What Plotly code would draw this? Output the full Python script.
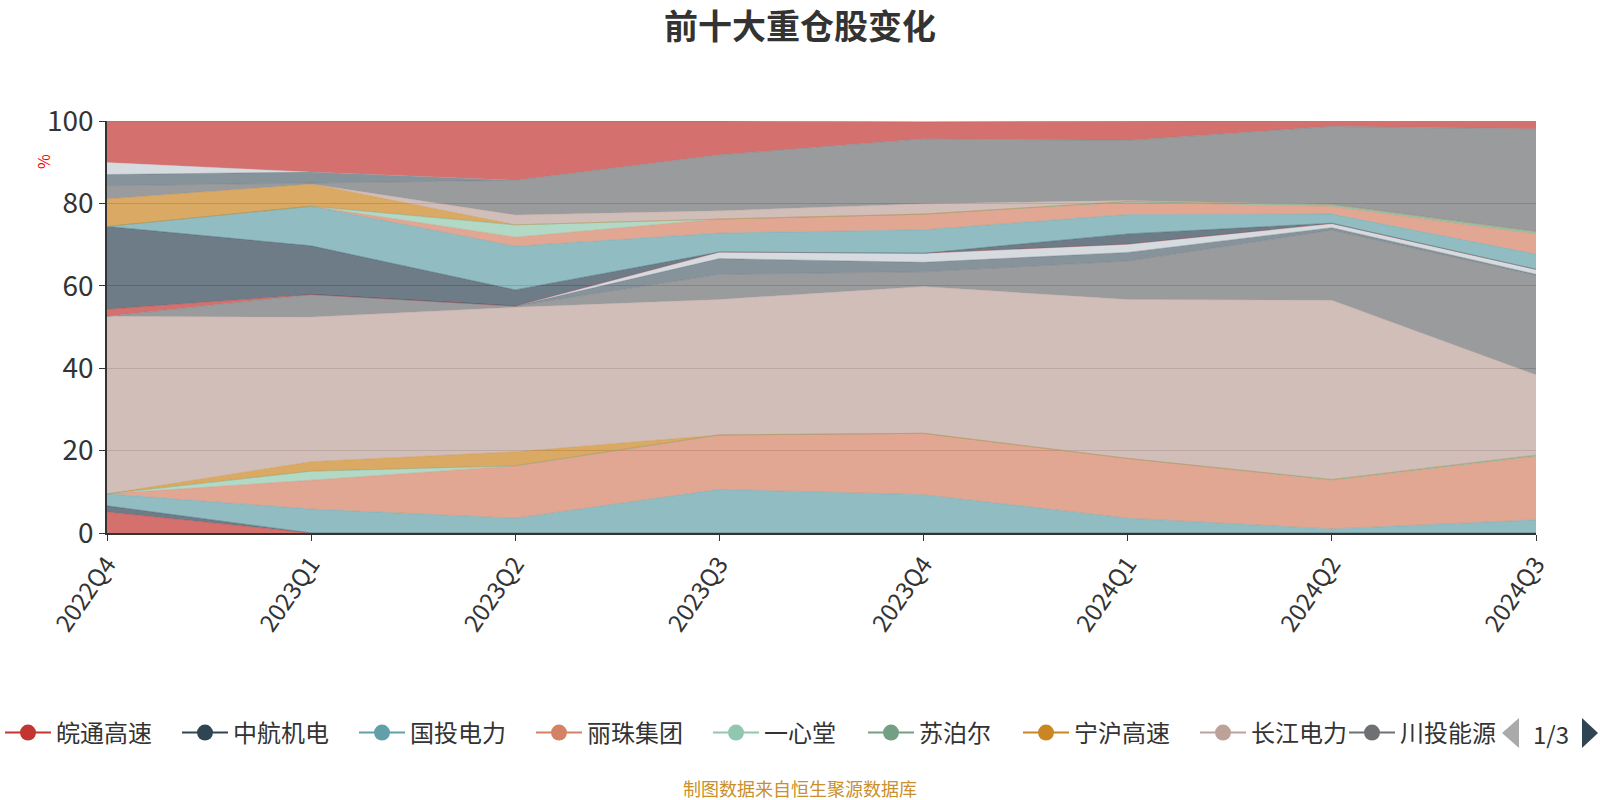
import plotly.graph_objects as go

quarters = ["2022Q4", "2023Q1", "2023Q2", "2023Q3", "2023Q4", "2024Q1", "2024Q2", "2024Q3"]

# stacked share (%) of each holding, bottom to top, in legend/series order
wantong = [5.1, 0, 0, 0, 0, 0, 0, 0]
zhonghang = [1.5, 0, 0, 0, 0, 0, 0, 0]
guotou = [2.9, 5.8, 3.6, 10.6, 9.3, 3.6, 1.0, 3.2]
lizhu = [0, 7.0, 12.7, 13.2, 14.9, 14.5, 11.8, 15.4]
yixintang = [0, 2.2, 0, 0, 0, 0, 0, 0]
supor = [0, 0, 0, 0, 0, 0, 0.2, 0.3]
ninghu = [0, 2.3, 3.4, 0, 0, 0, 0, 0]
changjiang = [43.1, 35.1, 35.1, 32.9, 35.6, 38.6, 43.5, 19.5]
chuantou = [0, 5.5, 0.3, 6.1, 3.6, 9.3, 17.0, 24.1]
huaneng = [0, 0, 0, 3.8, 2.3, 2.1, 0.6, 0.3]
shenhua = [0, 0, 0, 1.6, 2.2, 2.0, 1.0, 1.2]
yili = [1.7, 0, 0, 0, 0, 0, 0, 0]
gree = [20.1, 11.8, 3.9, 0, 0, 2.5, 0.1, 0]
midea = [0, 9.6, 10.6, 4.6, 5.7, 4.7, 2.2, 3.7]
shuanghui = [0, 0, 2.2, 3.4, 3.8, 3.0, 1.9, 4.9]
daqin = [0, 0, 3.0, 0, 0, 0, 0, 0]
haier = [0, 0, 0, 0, 0, 0.2, 0.5, 0.6]
shangao = [6.7, 5.4, 0, 0, 0, 0, 0, 0]
yuegao = [0, 0, 2.4, 2.0, 2.5, 0.2, 0, 0]
cmobile = [3.2, 0.3, 8.4, 13.6, 15.8, 14.6, 18.9, 24.9]
jsbank = [2.7, 2.6, 0, 0, 0, 0, 0, 0]
sinopec = [2.9, 0, 0, 0, 0, 0, 0, 0]
shaanxi = [10.1, 12.4, 14.4, 8.2, 4.1, 4.7, 1.4, 2.0]

names = ["皖通高速", "中航机电", "国投电力", "丽珠集团", "一心堂", "苏泊尔", "宁沪高速", "长江电力",
         "川投能源", "华能水电", "中国神华", "伊利股份", "格力电器", "美的集团", "双汇发展", "大秦铁路",
         "海尔智家", "山东高速", "粤高速A", "中国移动", "江苏银行", "中国石化", "陕西煤业"]
series = [wantong, zhonghang, guotou, lizhu, yixintang, supor, ninghu, changjiang, chuantou, huaneng,
          shenhua, yili, gree, midea, shuanghui, daqin, haier, shangao, yuegao, cmobile, jsbank,
          sinopec, shaanxi]

palette = ["#c23531", "#2f4554", "#61a0a8", "#d48265", "#91c7ae", "#749f83",
           "#ca8622", "#bda29a", "#6e7074", "#546570", "#c4ccd3"]
legend_count = 9
page_text = "1/3"
FONT = "Noto Sans CJK SC, Microsoft YaHei, sans-serif"

W, H = 1600, 800
L, R, T, B = 107, 64, 121, 267
PW, PH = W - L - R, H - T - B


def px_x(x):
    return (x - L) / PW


def px_y(y):
    return (H - B - y) / PH


def rgba(h, a):
    h = h.lstrip("#")
    r, g, b = int(h[0:2], 16), int(h[2:4], 16), int(h[4:6], 16)
    return f"rgba({r},{g},{b},{a})"


fig = go.Figure()
for i, (name, vals) in enumerate(zip(names, series)):
    c = palette[i % len(palette)]
    fig.add_trace(go.Scatter(
        x=quarters, y=vals, name=name, stackgroup="one", mode="lines",
        line=dict(color=rgba(c, 0.55), width=0.6), fillcolor=rgba(c, 0.7),
        showlegend=False, hovertemplate="%{x}<br>" + name + ": %{y}%<extra></extra>"))

# legend entries (first page of the paged legend); per-entry widths mimic the reference spacing
ITEM_W = 46
entry_widths = [116, 116, 116, 116, 94, 94, 116, 88, 96]
for i in range(legend_count):
    c = palette[i % len(palette)]
    fig.add_trace(go.Scatter(
        x=[None], y=[None], name=names[i], mode="lines+markers",
        line=dict(color=c, width=2), marker=dict(color=c, size=16),
        legendwidth=entry_widths[i], showlegend=True, hoverinfo="skip"))

ly = 733
shapes = [
    dict(type="path", xref="paper", yref="paper", line=dict(width=0), fillcolor="#aaaaaa",
         path=f"M {px_x(1502)} {px_y(ly)} L {px_x(1519)} {px_y(ly - 15)} L {px_x(1519)} {px_y(ly + 15)} Z"),
    dict(type="path", xref="paper", yref="paper", line=dict(width=0), fillcolor="#2f4554",
         path=f"M {px_x(1582)} {px_y(ly - 15)} L {px_x(1598)} {px_y(ly)} L {px_x(1582)} {px_y(ly + 15)} Z"),
]

fig.update_layout(
    width=W, height=H,
    paper_bgcolor="white", plot_bgcolor="white",
    margin=dict(l=L, r=R, t=T, b=B, autoexpand=False),
    font=dict(family=FONT, color="#333"),
    title=dict(text="<b>前十大重仓股变化</b>", x=0.5, xanchor="center",
               y=1 - 27 / H, yanchor="middle",
               font=dict(size=34, color="#333", family=FONT)),
    showlegend=True,
    legend=dict(orientation="h", xref="paper", yref="paper",
                x=px_x(0), xanchor="left", y=px_y(ly), yanchor="middle",
                traceorder="normal", itemwidth=ITEM_W,
                font=dict(size=24, color="#333", family=FONT),
                itemsizing="trace", tracegroupgap=0, bgcolor="rgba(0,0,0,0)"),
    xaxis=dict(type="category", range=[0, len(quarters) - 1], showgrid=False,
               showline=True, linecolor="#333", linewidth=1.5,
               ticks="outside", ticklen=6, tickcolor="#333",
               tickangle=-55, tickfont=dict(size=24, color="#333", family=FONT)),
    yaxis=dict(range=[0, 100], dtick=20, showgrid=True, gridcolor="#b8b8b8",
               showline=True, linecolor="#333", linewidth=1.5,
               ticks="outside", ticklen=6, tickcolor="#333",
               zeroline=False, tickfont=dict(size=28, color="#333", family=FONT)),
    shapes=shapes,
    annotations=[
        dict(text="%", xref="paper", yref="paper", x=px_x(43), y=px_y(162),
             xanchor="center", yanchor="middle",
             showarrow=False, textangle=-90, font=dict(size=16, color="red", family=FONT)),
        dict(text="制图数据来自恒生聚源数据库", xref="paper", yref="paper",
             x=px_x(800), xanchor="center", y=px_y(788), yanchor="middle",
             showarrow=False, font=dict(size=18, color="#c9902c", family=FONT)),
        dict(text=page_text, xref="paper", yref="paper", x=px_x(1551), y=px_y(ly),
             xanchor="center", yanchor="middle", showarrow=False,
             font=dict(size=24, color="#333", family=FONT)),
    ],
)

fig.write_html("out.html", config={"displayModeBar": False},
               post_script="document.body.style.margin='0';document.body.style.overflow='hidden';")
